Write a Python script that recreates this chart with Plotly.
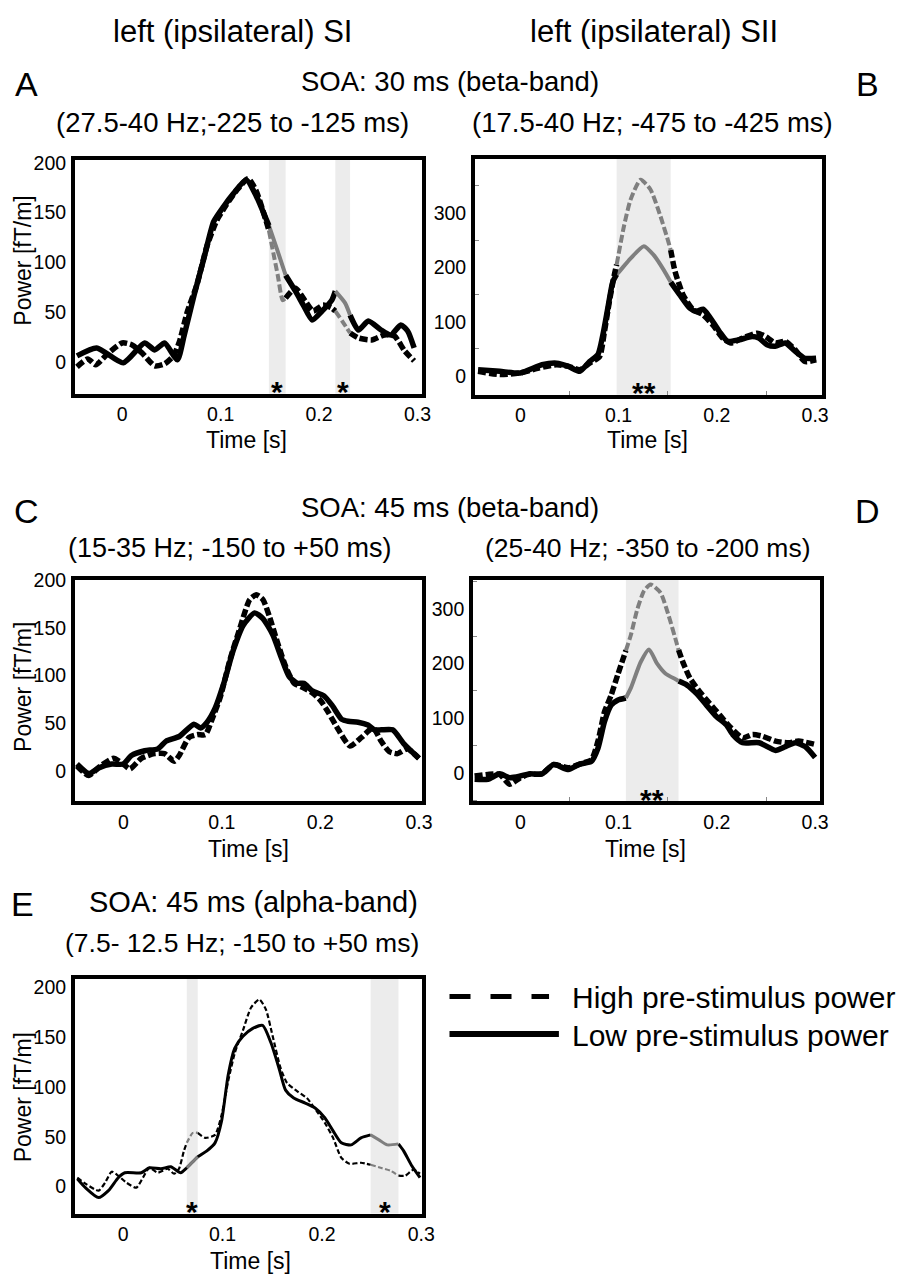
import plotly.graph_objects as go

# ---------------- data ----------------
# Panel A: left (ipsilateral) SI, SOA 30 ms, beta band
A_t_low = [-0.046, -0.026, 0.001, 0.0227, 0.033, 0.043, 0.056, 0.063, 0.073, 0.083,
           0.093, 0.103, 0.113, 0.126, 0.136, 0.146, 0.149, 0.158, 0.166, 0.176,
           0.184, 0.193, 0.203, 0.213, 0.2165, 0.2265, 0.2315, 0.24, 0.25, 0.263,
           0.273, 0.283, 0.29, 0.2966]
A_low = [6, 14, -1, 19, 12, 19, 2, 27, 67, 104,
         141, 156, 169, 183, 167, 144, 137, 111, 87, 71,
         57, 42, 51, 62, 71, 59, 47, 32, 41, 32,
         27, 37, 31, 14]
A_t_high = [-0.046, -0.035, -0.027, -0.015, 0.0, 0.01, 0.02, 0.033, 0.043, 0.052,
            0.058, 0.066, 0.076, 0.086, 0.096, 0.106, 0.116, 0.128, 0.136, 0.146,
            0.149, 0.158, 0.163, 0.166, 0.176, 0.186, 0.194, 0.204, 0.213, 0.2165,
            0.2235, 0.2315, 0.24, 0.2535, 0.2665, 0.2765, 0.287, 0.2966]
A_high = [-5, 3, -3, 8, 19, 17, 9, -4, -2, 6,
          20, 50, 78, 116, 142, 158, 172, 184, 172, 142,
          132, 87, 62, 64, 74, 61, 51, 57, 54, 51,
          41, 29, 24, 22, 27, 26, 11, 1]
A_win_start = [0.149, 0.2165]
A_win_end = [0.166, 0.2315]
A_star = ["*", "*"]

# Panel B: left (ipsilateral) SII, SOA 30 ms, beta band
B_t_low = [-0.043, -0.021, 0.0, 0.022, 0.037, 0.049, 0.0605, 0.0705, 0.079, 0.084,
           0.089, 0.094, 0.098, 0.102, 0.112, 0.1257, 0.136, 0.146, 0.153, 0.1625,
           0.1725, 0.179, 0.186, 0.1926, 0.2026, 0.211, 0.2227, 0.236, 0.2427, 0.251,
           0.2594, 0.2695, 0.2795, 0.2895, 0.301]
B_low = [12, 9, 6, 21, 24, 18, 9, 27, 40, 76,
         125, 173, 187, 195, 216, 239, 222, 195, 173, 149,
         125, 119, 123, 109, 82, 64, 67, 73, 70, 58,
         55, 61, 46, 33, 33]
B_t_high = [-0.043, -0.021, 0.0, 0.0187, 0.037, 0.049, 0.0605, 0.0705, 0.0806, 0.0856,
            0.0906, 0.0956, 0.098, 0.1056, 0.1123, 0.1224, 0.1324, 0.1424, 0.1508, 0.153,
            0.1575, 0.1658, 0.1759, 0.1859, 0.1959, 0.206, 0.2143, 0.226, 0.241, 0.2494,
            0.2594, 0.2695, 0.2795, 0.2895, 0.301]
B_high = [9, 3, 6, 15, 21, 18, 12, 24, 36, 82,
          137, 186, 205, 277, 325, 361, 343, 295, 246, 232,
          192, 149, 122, 113, 94, 70, 61, 70, 79, 73,
          61, 64, 49, 27, 30]
B_win_start = [0.098]
B_win_end = [0.153]
B_star = ["**"]

# Panel C: left SI, SOA 45 ms, beta band
C_t_low = [-0.047, -0.035, -0.025, -0.0117, 0.0, 0.0083, 0.0217, 0.035, 0.0433, 0.0567,
           0.0717, 0.0783, 0.085, 0.0933, 0.1017, 0.1117, 0.1217, 0.1333, 0.1417, 0.1517,
           0.16, 0.1683, 0.1767, 0.1833, 0.1917, 0.2033, 0.2117, 0.2217, 0.2283, 0.2383,
           0.2483, 0.255, 0.2617, 0.2733, 0.285, 0.3]
C_low = [7, -3, 3, 7, 7, 16, 21, 23, 31, 36,
         49, 45, 51, 66, 91, 127, 153, 166, 160, 143,
         120, 99, 92, 92, 84, 79, 69, 54, 52, 51,
         48, 43, 43, 43, 28, 13]
C_t_high = [-0.047, -0.035, -0.0233, -0.01, 0.0, 0.0067, 0.0183, 0.0317, 0.0417, 0.0517,
            0.0567, 0.0667, 0.075, 0.0833, 0.09, 0.0983, 0.1083, 0.1183, 0.1283, 0.135,
            0.1417, 0.1483, 0.1567, 0.165, 0.1733, 0.1833, 0.1917, 0.2, 0.2083, 0.2183,
            0.23, 0.2417, 0.2533, 0.2617, 0.27, 0.2783, 0.2883, 0.3]
C_high = [5, -5, 5, 13, 7, 2, 13, 18, 18, 10,
          16, 35, 38, 38, 54, 77, 117, 150, 180, 185,
          180, 162, 134, 109, 92, 87, 82, 74, 61, 43,
          26, 35, 45, 31, 20, 18, 23, 13]
C_win_start = []
C_win_end = []
C_star = []

# Panel D: left SII, SOA 45 ms, beta band
D_t_low = [-0.0465, -0.033, -0.021, -0.011, 0.0, 0.0087, 0.022, 0.0338, 0.0489, 0.0606,
           0.0723, 0.079, 0.0857, 0.0924, 0.099, 0.1074, 0.1124, 0.1225, 0.1309, 0.1392,
           0.1476, 0.1593, 0.161, 0.1693, 0.1794, 0.1894, 0.1995, 0.2095, 0.2162, 0.2262,
           0.243, 0.2597, 0.2697, 0.2798, 0.2898, 0.3]
D_low = [-12, -12, -2, -9, -6, -2, -2, 15, 6, 16,
         21, 45, 94, 124, 133, 137, 155, 203, 226, 200,
         182, 170, 168, 161, 145, 124, 103, 88, 70, 55,
         55, 41, 48, 55, 48, 28]
D_t_high = [-0.0465, -0.033, -0.021, -0.011, 0.0, 0.0087, 0.022, 0.0338, 0.0489, 0.0606,
            0.0723, 0.079, 0.0857, 0.0924, 0.099, 0.1074, 0.1124, 0.1191, 0.1258, 0.1325,
            0.1426, 0.1509, 0.1593, 0.161, 0.166, 0.1727, 0.1827, 0.1928, 0.2028, 0.2129,
            0.2262, 0.2363, 0.2463, 0.2597, 0.273, 0.2831, 0.3]
D_high = [-6, -3, -3, -21, -9, -3, -2, 15, 9, 16,
          24, 58, 112, 142, 179, 224, 252, 300, 333, 345,
          330, 288, 236, 225, 200, 173, 148, 127, 106, 85,
          64, 70, 67, 58, 55, 58, 52]
D_win_start = [0.1074]
D_win_end = [0.161]
D_star = ["**"]

# Panel E: left SI, SOA 45 ms, alpha band
E_t_low = [-0.0462, -0.038, -0.0248, -0.0149, -0.005, 0.0017, 0.0182, 0.0264, 0.038, 0.0479,
           0.0578, 0.064, 0.075, 0.0842, 0.0924, 0.099, 0.1056, 0.1122, 0.1205, 0.1304,
           0.1403, 0.1485, 0.1568, 0.1634, 0.1716, 0.1832, 0.1931, 0.203, 0.2112, 0.2195,
           0.2294, 0.2393, 0.249, 0.2574, 0.2657, 0.277, 0.2822, 0.2904, 0.2987]
E_low = [8, -1, -11, -4, 9, 14, 14, 19, 18, 20,
         14, 19, 30, 36, 44, 66, 112, 139, 151, 159,
         162, 145, 119, 97, 89, 84, 79, 69, 56, 44,
         42, 49, 52, 47, 42, 43, 36, 21, 9]
E_t_high = [-0.0462, -0.038, -0.0248, -0.0182, -0.0116, -0.005, 0.0033, 0.0132, 0.0198, 0.0264,
            0.0347, 0.0446, 0.0512, 0.0561, 0.0611, 0.064, 0.07, 0.075, 0.0825, 0.0924,
            0.099, 0.1056, 0.1122, 0.1205, 0.1287, 0.137, 0.1436, 0.1502, 0.1584, 0.165,
            0.1749, 0.1848, 0.1947, 0.203, 0.2112, 0.2195, 0.2277, 0.2393, 0.249, 0.259,
            0.269, 0.277, 0.2838, 0.2921, 0.2987]
E_high = [9, 3, -4, 4, 15, 11, 4, -1, 9, 19,
          14, 18, 13, 18, 36, 44, 54, 54, 49, 52,
          72, 106, 134, 157, 180, 188, 178, 152, 119, 104,
          96, 89, 76, 64, 49, 29, 23, 24, 22, 19,
          16, 11, 11, 17, 13]
E_win_start = [0.064, 0.249]
E_win_end = [0.075, 0.277]
E_star = ["*", "*"]

LEGEND_LABELS = ["High pre-stimulus power", "Low pre-stimulus power"]

# ---------------- layout helpers ----------------
PAGE_W, PAGE_H = 905, 1276
OFF = 8                      # default body margin of the html page
W, H = PAGE_W - OFF, PAGE_H - OFF
FONT = "Liberation Sans, Arial, Helvetica, sans-serif"
GRAY = "#7f7f7f"
SHADE = "#ececec"


def px(x):
    return (x - OFF) / W


def py(y):
    return 1 - (y - OFF) / H


panels = [
    dict(t_low=A_t_low, low=A_low, t_high=A_t_high, high=A_high, ws=A_win_start, we=A_win_end,
         star=A_star, box=(76, 428, 150, 386), xr=(-0.048, 0.3045), yr=(-32, 203), dy=50,
         thin=False, minor=False),
    dict(t_low=B_t_low, low=B_low, t_high=B_t_high, high=B_high, ws=B_win_start, we=B_win_end,
         star=B_star, box=(482, 834, 149, 387), xr=(-0.046, 0.307), yr=(-34, 399.5), dy=100,
         thin=False, minor=True),
    dict(t_low=C_t_low, low=C_low, t_high=C_t_high, high=C_high, ws=C_win_start, we=C_win_end,
         star=C_star, box=(76, 428, 574, 797), xr=(-0.049, 0.303), yr=(-32, 200.5), dy=50,
         thin=False, minor=False),
    dict(t_low=D_t_low, low=D_low, t_high=D_t_high, high=D_high, ws=D_win_start, we=D_win_end,
         star=D_star, box=(480, 832, 574, 797), xr=(-0.048, 0.305), yr=(-52, 353), dy=100,
         thin=False, minor=True),
    dict(t_low=E_t_low, low=E_low, t_high=E_t_high, high=E_high, ws=E_win_start, we=E_win_end,
         star=E_star, box=(76, 428, 976, 1213), xr=(-0.0485, 0.3006), yr=(-27, 209), dy=50,
         thin=True, minor=False),
]


def in_win(t, ws, we, strict):
    for s, e in zip(ws, we):
        if (s < t < e) if strict else (s <= t <= e):
            return True
    return False


def split(t, v, ws, we):
    black = [None if in_win(tt, ws, we, True) else vv for tt, vv in zip(t, v)]
    gray = [vv if in_win(tt, ws, we, False) else None for tt, vv in zip(t, v)]
    return black, gray


fig = go.Figure()
layout = {}
shapes = []
annotations = []

for i, p in enumerate(panels, start=1):
    sx = "" if i == 1 else str(i)
    xa, ya = "x" + sx, "y" + sx
    l, r, t, b = p["box"]
    tickfont = dict(size=19.5, color="black", family=FONT)
    xax = dict(domain=[px(l), px(r)], anchor=ya, range=list(p["xr"]), tick0=0, dtick=0.1,
               showline=True, linewidth=4, linecolor="black", mirror=True,
               showgrid=False, zeroline=False, ticks="", tickfont=tickfont,
               ticklabelstandoff=0, fixedrange=True)
    yax = dict(domain=[py(b), py(t)], anchor=xa, range=list(p["yr"]), tick0=0, dtick=p["dy"],
               showline=True, linewidth=4, linecolor="black", mirror=True,
               showgrid=False, zeroline=False, ticks="", tickfont=tickfont,
               ticklabelstandoff=1, fixedrange=True)
    if p["minor"]:
        xax["minor"] = dict(ticks="inside", dtick=0.05, tick0=0, ticklen=4, tickwidth=1,
                            tickcolor="#888888")
        yax["minor"] = dict(ticks="inside", dtick=50, tick0=0, ticklen=4, tickwidth=1,
                            tickcolor="#888888")
    layout["xaxis" + sx] = xax
    layout["yaxis" + sx] = yax

    # significance windows
    for s, e, st in zip(p["ws"], p["we"], p["star"]):
        shapes.append(dict(type="rect", xref=xa, yref=ya + " domain", x0=s, x1=e, y0=0, y1=1,
                           fillcolor=SHADE, line=dict(width=0), layer="below"))
        annotations.append(dict(text="<b>" + st + "</b>", xref=xa, yref=ya + " domain",
                                x=(s + e) / 2, y=0, xanchor="center", yanchor="middle",
                                yshift=2, showarrow=False,
                                font=dict(size=30, family=FONT, color="black")))

    if p["thin"]:
        w_solid, w_dash, dash = 3, 2.2, "5px,2.5px"
        g_solid, g_dash = 3, 2.2
    else:
        w_solid, w_dash, dash = 5.5, 5.5, "8px,3px"
        g_solid, g_dash = 4, 4

    lb, lg = split(p["t_low"], p["low"], p["ws"], p["we"])
    hb, hg = split(p["t_high"], p["high"], p["ws"], p["we"])
    common = dict(mode="lines", xaxis=xa, yaxis=ya, showlegend=False, hoverinfo="skip",
                  line_shape="spline")
    fig.add_trace(go.Scatter(x=p["t_low"], y=lb, line=dict(color="black", width=w_solid,
                                                            smoothing=0.6), **common))
    fig.add_trace(go.Scatter(x=p["t_low"], y=lg, line=dict(color=GRAY, width=g_solid,
                                                            smoothing=0.6), **common))
    fig.add_trace(go.Scatter(x=p["t_high"], y=hb, line=dict(color="black", width=w_dash,
                                                             dash=dash, smoothing=0.6), **common))
    fig.add_trace(go.Scatter(x=p["t_high"], y=hg, line=dict(color=GRAY, width=g_dash,
                                                             dash=dash, smoothing=0.6), **common))


def txt(s, x, y, size, xanchor="center", angle=0):
    return dict(text=s, x=px(x), y=py(y), xref="paper", yref="paper", xanchor=xanchor,
                yanchor="middle", showarrow=False, textangle=angle,
                font=dict(size=size, family=FONT, color="black"))


annotations += [
    txt("left (ipsilateral) SI", 236, 21, 31),
    txt("left (ipsilateral) SII", 664, 21, 31),
    txt("A", 27, 74, 34),
    txt("B", 880, 74, 34),
    txt("SOA: 30 ms (beta-band)", 456, 71, 27.5),
    txt("(27.5-40 Hz;-225 to -125 ms)", 236, 112, 27.5),
    txt("(17.5-40 Hz; -475 to -425 ms)", 662, 112, 27.5),
    txt("C", 27, 504, 34),
    txt("D", 880, 504, 34),
    txt("SOA: 45 ms (beta-band)", 456, 501, 27.5),
    txt("(15-35 Hz; -150 to +50 ms)", 233, 542, 27),
    txt("(25-40 Hz; -350 to -200 ms)", 657, 542, 26.5),
    txt("E", 23, 901, 34),
    txt("SOA: 45 ms (alpha-band)", 257, 899, 29),
    txt("(7.5- 12.5 Hz; -150 to +50 ms)", 245, 940, 26.5),
    txt("Power [fT/m]", 23, 252, 23, angle=-90),
    txt("Power [fT/m]", 23, 682, 23, angle=-90),
    txt("Power [fT/m]", 23, 1096, 23, angle=-90),
    txt("Time [s]", 250, 433, 23),
    txt("Time [s]", 657, 433, 23),
    txt("Time [s]", 252, 845, 23),
    txt("Time [s]", 655, 845, 23),
    txt("Time [s]", 254, 1261, 23),
    txt(LEGEND_LABELS[0], 578, 995, 30, xanchor="left"),
    txt(LEGEND_LABELS[1], 578, 1033, 30, xanchor="left"),
]

# legend keys
shapes.append(dict(type="line", xref="paper", yref="paper", x0=px(456), x1=px(557),
                   y0=py(994), y1=py(994), line=dict(color="black", width=5, dash="21px,20px")))
shapes.append(dict(type="line", xref="paper", yref="paper", x0=px(456), x1=px(567),
                   y0=py(1032), y1=py(1032), line=dict(color="black", width=6)))

fig.update_layout(width=W, height=H, autosize=False,
                  margin=dict(l=0, r=0, t=0, b=0, pad=0),
                  paper_bgcolor="white", plot_bgcolor="white",
                  font=dict(family=FONT, color="black"),
                  shapes=shapes, annotations=annotations, **layout)

fig.write_html("out.html", config={"displayModeBar": False, "staticPlot": True})
